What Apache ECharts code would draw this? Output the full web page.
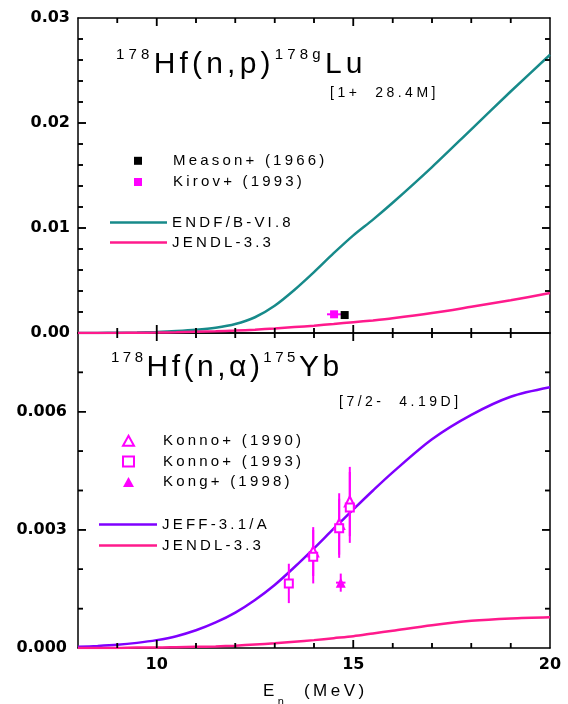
<!DOCTYPE html>
<html><head><meta charset="utf-8">
<script src="https://cdn.jsdelivr.net/npm/echarts@6/dist/echarts.min.js"></script>
<style>html,body{margin:0;padding:0;background:#fff}#c{width:568px;height:704px}</style>
</head><body><div id="c"></div>
<script>
// Origin-style wide letter spacing for the regular texts (font aliases select the spacing)
(function(){
  var P = CanvasRenderingContext2D.prototype;
  var sp = function(f){ return /Liberation Sans/i.test(f) ? '4.2px' : (/Arial/i.test(f) ? '3.5px' : (/Helvetica/i.test(f) ? '3.2px' : '0px')); };
  var of = P.fillText, om = P.measureText;
  P.fillText = function(t,x,y,m){ try{ this.letterSpacing = sp(this.font); }catch(e){} return m===undefined ? of.call(this,t,x,y) : of.call(this,t,x,y,m); };
  P.measureText = function(t){ try{ this.letterSpacing = sp(this.font); }catch(e){} return om.call(this,t); };
})();

// ---------------- data ----------------
var energies = [8, 8.5, 9, 9.5, 10, 10.5, 11, 11.5, 12, 12.5, 13, 13.5, 14, 14.5, 15, 15.5, 16, 17, 18, 19, 20];
// 178Hf(n,p)178gLu
var endfHfp  = [0.00000, 0.00001, 0.00002, 0.00005, 0.00010, 0.00018, 0.00030, 0.00050, 0.00085, 0.00150, 0.00260, 0.00410, 0.00580, 0.00760, 0.00930, 0.01080, 0.01240, 0.01580, 0.01940, 0.02300, 0.02650];
var jendlHfp = [0.00000, 0.00000, 0.00001, 0.00002, 0.00004, 0.00007, 0.00011, 0.00016, 0.00023, 0.00032, 0.00043, 0.00056, 0.00070, 0.00086, 0.00103, 0.00120, 0.00140, 0.00190, 0.00250, 0.00312, 0.00380];
// 178Hf(n,a)175Yb
var jeffHfa  = [0.00003, 0.00005, 0.00008, 0.00013, 0.00020, 0.00030, 0.00045, 0.00065, 0.00090, 0.00122, 0.00160, 0.00205, 0.00253, 0.00303, 0.00352, 0.00400, 0.00446, 0.00530, 0.00592, 0.00638, 0.00662];
var jendlHfa = [0.00000, 0.00000, 0.00000, 0.00001, 0.00001, 0.00002, 0.00003, 0.00004, 0.00006, 0.00009, 0.00012, 0.00016, 0.00020, 0.00025, 0.00030, 0.00037, 0.00044, 0.00058, 0.00069, 0.00075, 0.00078];

var measonE = [14.78], measonV = [0.00171];
var kirovE = [14.51], kirovV = [0.00178], kirovDE = [0.18];

var konno90E = [13.98, 14.64, 14.91];
var konno90V = [0.00245, 0.00315, 0.00372];
var konno90Err = [0.00062, 0.00078, 0.00088];
var konno93E = [13.36, 13.98, 14.64, 14.91];
var konno93V = [0.00164, 0.00232, 0.00304, 0.00357];
var konno93Err = [0.00050, 0.00068, 0.00075, 0.00090];
var kongE = [14.68], kongV = [0.00166], kongDE = [0.12], kongDV = [0.00023];

// ticks and tick labels
var xMajor = [10, 15, 20];
var xMinor = [9, 11, 12, 13, 14, 16, 17, 18, 19];
var yTopMajor = [0, 0.01, 0.02, 0.03];
var yTopMinor = [0.002, 0.004, 0.006, 0.008, 0.012, 0.014, 0.016, 0.018, 0.022, 0.024, 0.026, 0.028];
var yTopLabels = ['0.00', '0.01', '0.02', '0.03'];
var yBotMajor = [0, 0.003, 0.006];
var yBotMinor = [0.001, 0.002, 0.004, 0.005, 0.007];
var yBotLabels = ['0.000', '0.003', '0.006'];

// ---------------- build ----------------
var TEAL = '#178a8a', PINK = '#ff1a8c', PURPLE = '#7f00ff', MAG = '#ff00ff';
var zip = function(xs, ys){ return xs.map(function(x,i){ return [x, ys[i]]; }); };
var LEFT = 78, RIGHT = 18, XMIN = 8, XMAX = 20, XMID = 14;
var TICK_MAJ = 8, TICK_MIN = 5;

function xAx(g, pos, labels){
  return { gridIndex: g, type: 'value', min: XMIN, max: XMAX, interval: 1, position: pos,
    splitLine: { show: false },
    axisLine: { show: true, onZero: false, lineStyle: { color: '#000', width: 1.5 } },
    axisTick: { show: false },
    axisLabel: labels ? { show: true, customValues: xMajor, formatter: function(v){ return xMajor.indexOf(v) >= 0 ? String(v) : ''; },
      fontFamily: 'DejaVu Sans', fontWeight: 'bold', fontSize: 16, color: '#000', margin: 9 } : { show: false } };
}
function yAx(g, pos, max, interval, major, labels, margin){
  return { gridIndex: g, type: 'value', min: 0, max: max, interval: interval, position: pos,
    splitLine: { show: false },
    axisLine: { show: true, onZero: false, lineStyle: { color: '#000', width: 1.5 } },
    axisTick: { show: false },
    axisLabel: labels ? { show: true, customValues: major, margin: margin,
      formatter: function(v){ var i = major.indexOf(v); return i >= 0 ? labels[i] : ''; },
      fontFamily: 'DejaVu Sans', fontWeight: 'bold', fontSize: 16, color: '#000' } : { show: false } };
}

// tick descriptors (values on the frame itself are skipped)
function tickList(yMax, yMajor, yMinor){
  var t = [];
  xMajor.forEach(function(v){ if (v > XMIN && v < XMAX) t.push({ tick: 'x', v: v, len: TICK_MAJ }); });
  xMinor.forEach(function(v){ t.push({ tick: 'x', v: v, len: TICK_MIN }); });
  yMajor.forEach(function(v){ if (v > 0 && v < yMax) t.push({ tick: 'y', v: v, len: TICK_MAJ }); });
  yMinor.forEach(function(v){ t.push({ tick: 'y', v: v, len: TICK_MIN }); });
  t.forEach(function(d){ d.yMax = yMax; d.x = d.tick === 'x' ? d.v : XMID; d.y = d.tick === 'x' ? yMax / 2 : d.v; });
  return t;
}
// segments for one tick, from a coordinate converter
function tickSegments(d, coord){
  if (d.tick === 'x') {
    var b = coord([d.v, 0]), t = coord([d.v, d.yMax]);
    return [[b[0], b[1], b[0], b[1] - d.len], [t[0], t[1], t[0], t[1] + d.len]];
  }
  var l = coord([XMIN, d.v]), r = coord([XMAX, d.v]);
  return [[l[0], l[1], l[0] + d.len, l[1]], [r[0], r[1], r[0] - d.len, r[1]]];
}

// error bars and inward ticks, both placed through the axes' own scales
function segRender(items){
  return function(params, api){
    var d = items[params.dataIndex];
    var children = [];
    if (d.tick) {
      tickSegments(d, function(p){ return api.coord(p); }).forEach(function(s){
        children.push({ type: 'line', shape: { x1: s[0], y1: s[1], x2: s[2], y2: s[3] }, style: { stroke: '#000', lineWidth: 1.5 } });
      });
      return { type: 'group', children: children };
    }
    if (d.dy) {
      var a = api.coord([d.x, d.y - d.dy]), b = api.coord([d.x, d.y + d.dy]);
      children.push({ type: 'line', shape: { x1: a[0], y1: a[1], x2: b[0], y2: b[1] }, style: { stroke: MAG, lineWidth: 2 } });
    }
    if (d.dx) {
      var c = api.coord([d.x - d.dx, d.y]), e = api.coord([d.x + d.dx, d.y]);
      children.push({ type: 'line', shape: { x1: c[0], y1: c[1], x2: e[0], y2: e[1] }, style: { stroke: MAG, lineWidth: 2 } });
    }
    return { type: 'group', children: children };
  };
}
var topTicks = tickList(0.03, yTopMajor, yTopMinor);
var botTicks = tickList(0.008, yBotMajor, yBotMinor);

var topSeg = kirovE.map(function(x,i){ return { x: x, y: kirovV[i], dx: kirovDE[i] }; }).concat(topTicks);
var botSeg = []
  .concat(konno90E.map(function(x,i){ return { x: x, y: konno90V[i], dy: konno90Err[i] }; }))
  .concat(konno93E.map(function(x,i){ return { x: x, y: konno93V[i], dy: konno93Err[i] }; }))
  .concat(kongE.map(function(x,i){ return { x: x, y: kongV[i], dx: kongDE[i], dy: kongDV[i] }; }))
  .concat(botTicks);

var LT = { fontFamily: 'Helvetica', fontSize: 15, color: '#000' };

var texts = [
  { type: 'text', left: 116, top: 45.5, silent: true,
    style: { text: '{s|178}{b|Hf(n,p)}{s|178g}{b|Lu}', fill: '#000',
      rich: { b: { fontFamily: 'Liberation Sans', fontSize: 30, lineHeight: 38, fill: '#000' },
              s: { fontFamily: 'Liberation Sans', fontSize: 15, lineHeight: 15, verticalAlign: 'top', fill: '#000' } } } },
  { type: 'text', left: 330, top: 84, silent: true,
    style: { text: '[1+  28.4M]', fontFamily: 'Arial', fontSize: 14, fill: '#000' } },
  { type: 'text', left: 111, top: 348.5, silent: true,
    style: { text: '{s|178}{b|Hf(n,α)}{s|175}{b|Yb}', fill: '#000',
      rich: { b: { fontFamily: 'Arial', fontSize: 30, lineHeight: 38, fill: '#000' },
              s: { fontFamily: 'Arial', fontSize: 15, lineHeight: 15, verticalAlign: 'top', fill: '#000' } } } },
  { type: 'text', left: 339, top: 393, silent: true,
    style: { text: '[7/2-  4.19D]', fontFamily: 'Arial', fontSize: 14, fill: '#000' } },
  { type: 'text', left: 263, top: 681, silent: true,
    style: { text: '{e|E}{n|n}{e|  (MeV)}', fill: '#000',
      rich: { e: { fontFamily: 'Arial', fontSize: 17, lineHeight: 19, fill: '#000' },
              n: { fontFamily: 'Arial', fontSize: 11, lineHeight: 11, verticalAlign: 'bottom', padding: [0,0,-8,0], fill: '#000' } } } }
];

var option = {
  animation: false,
  backgroundColor: '#fff',
  grid: [
    { left: LEFT, right: RIGHT, top: 18, height: 315 },
    { left: LEFT, right: RIGHT, top: 333, height: 315 }
  ],
  xAxis: [
    xAx(0, 'bottom', false), xAx(0, 'top', false),
    xAx(1, 'bottom', true), xAx(1, 'top', false)
  ],
  yAxis: [
    yAx(0, 'left', 0.03, 0.01, yTopMajor, yTopLabels, 8),
    yAx(0, 'right', 0.03, 0.01, null, null, 0),
    yAx(1, 'left', 0.008, 0.001, yBotMajor, yBotLabels, 11),
    yAx(1, 'right', 0.008, 0.001, null, null, 0)
  ],
  legend: [
    { left: 134, top: 151.7, padding: 0, orient: 'vertical', itemWidth: 8, itemHeight: 8, itemGap: 3, selectedMode: false,
      textStyle: Object.assign({ padding: [0,0,0,26] }, LT),
      data: [{ name: 'Meason+ (1966)', icon: 'rect' }, { name: 'Kirov+ (1993)', icon: 'rect' }] },
    { left: 110, top: 213.3, padding: 0, orient: 'vertical', itemWidth: 57, itemHeight: 2.5, itemGap: 1.8, selectedMode: false,
      textStyle: LT, data: [{ name: 'ENDF/B-VI.8', icon: 'rect' }, { name: 'JENDL-3.3', icon: 'rect' }] },
    { left: 122, top: 431.7, padding: 0, orient: 'vertical', itemWidth: 11, itemHeight: 10, itemGap: 2.4, selectedMode: false,
      textStyle: Object.assign({ padding: [0,0,0,24] }, LT),
      data: ['Konno+ (1990)', 'Konno+ (1993)', 'Kong+ (1998)'] },
    { left: 99, top: 515.3, padding: 0, orient: 'vertical', itemWidth: 58, itemHeight: 2.5, itemGap: 3, selectedMode: false,
      textStyle: LT, data: [{ name: 'JEFF-3.1/A', icon: 'rect' }, { name: 'JENDL-3.3', icon: 'rect' }] }
  ],
  series: [
    { name: 'ENDF/B-VI.8', type: 'line', xAxisIndex: 0, yAxisIndex: 0, data: zip(energies, endfHfp), symbol: 'none', smooth: 0.3,
      lineStyle: { color: TEAL, width: 2.5 }, itemStyle: { color: TEAL }, silent: true, z: 2 },
    { name: 'JENDL-3.3', type: 'line', xAxisIndex: 0, yAxisIndex: 0, data: zip(energies, jendlHfp), symbol: 'none', smooth: 0.3,
      lineStyle: { color: PINK, width: 2.5 }, itemStyle: { color: PINK }, silent: true, z: 2 },
    { type: 'custom', xAxisIndex: 0, yAxisIndex: 0, data: topSeg.map(function(d){ return [d.x, d.y]; }),
      renderItem: segRender(topSeg), silent: true, z: 3 },
    { name: 'Meason+ (1966)', type: 'scatter', xAxisIndex: 0, yAxisIndex: 0, data: zip(measonE, measonV), symbol: 'rect', symbolSize: 8,
      itemStyle: { color: '#000', opacity: 1 }, silent: true, z: 4 },
    { name: 'Kirov+ (1993)', type: 'scatter', xAxisIndex: 0, yAxisIndex: 0, data: zip(kirovE, kirovV), symbol: 'rect', symbolSize: 8,
      itemStyle: { color: MAG, opacity: 1 }, silent: true, z: 4 },

    { name: 'JEFF-3.1/A', type: 'line', xAxisIndex: 2, yAxisIndex: 2, data: zip(energies, jeffHfa), symbol: 'none', smooth: 0.3,
      lineStyle: { color: PURPLE, width: 2.5 }, itemStyle: { color: PURPLE }, silent: true, z: 2 },
    { name: 'JENDL-3.3', type: 'line', xAxisIndex: 2, yAxisIndex: 2, data: zip(energies, jendlHfa), symbol: 'none', smooth: 0.3,
      lineStyle: { color: PINK, width: 2.5 }, itemStyle: { color: PINK }, silent: true, z: 2 },
    { type: 'custom', xAxisIndex: 2, yAxisIndex: 2, data: botSeg.map(function(d){ return [d.x, d.y]; }),
      renderItem: segRender(botSeg), silent: true, z: 3 },
    { name: 'Konno+ (1990)', type: 'scatter', xAxisIndex: 2, yAxisIndex: 2, data: zip(konno90E, konno90V), symbol: 'emptyTriangle', symbolSize: 10,
      itemStyle: { color: MAG, borderWidth: 1.2, opacity: 1 }, silent: true, z: 4 },
    { name: 'Konno+ (1993)', type: 'scatter', xAxisIndex: 2, yAxisIndex: 2, data: zip(konno93E, konno93V), symbol: 'emptyRect', symbolSize: 8,
      itemStyle: { color: MAG, borderWidth: 1.2, opacity: 1 }, silent: true, z: 4 },
    { name: 'Kong+ (1998)', type: 'scatter', xAxisIndex: 2, yAxisIndex: 2, data: zip(kongE, kongV), symbol: 'triangle', symbolSize: 10,
      itemStyle: { color: MAG, opacity: 1 }, silent: true, z: 4 }
  ],
  graphic: texts
};
var chart = echarts.init(document.getElementById('c'), null, { renderer: 'canvas' });
chart.setOption(option);

// second pass: the same inward ticks as graphic lines, positioned with the chart's own converter
var tickEls = [];
[[topTicks, 0], [botTicks, 2]].forEach(function(pair){
  pair[0].forEach(function(d){
    tickSegments(d, function(p){ return chart.convertToPixel({ xAxisIndex: pair[1], yAxisIndex: pair[1] }, p); }).forEach(function(s){
      tickEls.push({ type: 'line', silent: true, z: 100, shape: { x1: s[0], y1: s[1], x2: s[2], y2: s[3] }, style: { stroke: '#000', lineWidth: 1.5 } });
    });
  });
});
chart.setOption({ graphic: texts.concat(tickEls) });
</script></body></html>
